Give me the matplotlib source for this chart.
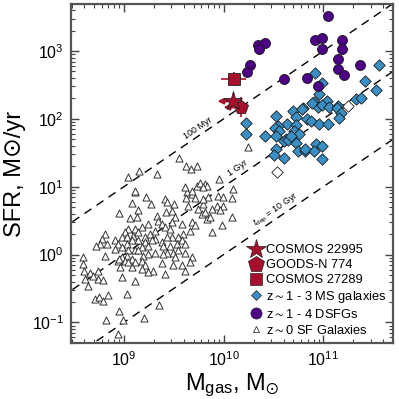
import numpy as np
import matplotlib
matplotlib.use("Agg")
import matplotlib.pyplot as plt
from matplotlib.lines import Line2D
from matplotlib.ticker import LogLocator, FuncFormatter, NullFormatter

plt.rcParams['font.family'] = ['Liberation Sans', 'DejaVu Sans']
plt.rcParams['mathtext.fontset'] = 'custom'
plt.rcParams['mathtext.rm'] = 'Liberation Sans'
plt.rcParams['mathtext.it'] = 'Liberation Sans:italic'
plt.rcParams['mathtext.fallback'] = 'stixsans'

# ---------------- data (log10 values) ----------------
# z~0 SF galaxies
tri_logm = [9.11, 9.22, 9.08, 8.95, 9.14, 9.06, 9.13, 9.41, 9.43, 9.50, 9.63, 9.68, 9.71, 9.64,
            9.62, 9.79, 9.84, 9.74, 9.78, 9.83, 9.86, 9.42, 9.48, 9.51, 9.48, 9.33, 9.34, 9.38,
            9.24, 9.18, 9.11, 9.04, 9.01, 8.98, 8.81, 8.78, 8.76, 8.83, 8.91, 8.94, 9.03, 9.09,
            9.14, 9.21, 9.26, 9.31, 9.41, 9.46, 9.58, 9.68, 9.71, 9.66, 9.59, 9.54, 9.48, 9.43,
            9.38, 9.31, 9.28, 9.21, 9.14, 9.08, 9.03, 8.98, 8.91, 9.04, 9.11, 9.18, 9.24, 9.39,
            9.46, 9.53, 9.58, 9.61, 9.54, 9.49, 9.43, 9.39, 9.31, 9.24, 9.19, 9.14, 9.03, 8.98,
            8.94, 9.01, 9.08, 9.11, 9.18, 9.21, 9.29, 9.18, 9.08, 8.96, 9.38, 9.51, 9.49, 9.58,
            9.61, 9.68, 9.66, 9.61, 8.81, 8.74, 8.98, 9.11, 8.74, 8.79, 9.79, 9.81,
            9.04, 9.15, 9.33, 9.55, 9.62, 9.67, 9.73, 9.11, 9.61, 9.68, 9.73, 9.27, 8.72,
            10.24, 9.76, 9.81, 9.83, 9.79, 9.95, 10.09, 9.94, 9.99, 10.08,
            9.99, 9.93, 9.88, 9.96, 10.08, 9.98, 9.88,
            8.59, 8.59, 8.60, 8.61, 8.64, 8.66, 8.69, 8.71, 8.75, 8.79, 8.84, 9.03, 8.82, 8.95,
            8.99, 9.20, 9.35, 8.94, 9.41, 9.24, 9.04, 8.95]
tri_logsfr = [0.92, 0.85, 0.76, 0.61, 0.65, 0.54, 0.55, 0.82, 0.77, 0.75, 0.92, 0.89, 0.84, 0.72,
              0.84, 0.75, 0.85, 0.67, 0.60, 0.52, 0.55, 0.62, 0.64, 0.55, 0.48, 0.57, 0.50, 0.45,
              0.45, 0.40, 0.38, 0.38, 0.33, 0.26, 0.30, 0.23, 0.16, 0.16, 0.21, 0.16, 0.26, 0.28,
              0.33, 0.26, 0.30, 0.35, 0.40, 0.38, 0.45, 0.48, 0.43, 0.35, 0.30, 0.26, 0.26, 0.26,
              0.18, 0.23, 0.21, 0.18, 0.21, 0.21, 0.16, 0.11, 0.08, 0.06, 0.07, 0.11, 0.13, 0.13,
              0.13, 0.16, 0.21, 0.16, 0.06, 0.03, 0.03, 0.01, 0.03, 0.01, -0.02, 0.06, -0.02, -0.04,
              -0.09, -0.09, -0.06, -0.11, -0.09, -0.16, -0.24, -0.21, -0.19, -0.19, -0.13, -0.04, -0.16, -0.16,
              -0.24, -0.04, -0.11, 0.03, -0.02, -0.24, -0.33, -0.39, -0.36, -0.38, 0.82, 0.62,
              1.15, 1.23, 1.18, 1.42, 1.31, 1.26, 1.31, 0.93, 0.99, 0.94, 1.01, 0.75, 0.12,
              1.59, 1.06, 1.04, 1.01, 0.99, 1.12, 0.96, 0.87, 0.85, 0.84,
              0.72, 0.72, 0.67, 0.65, 0.56, 0.43, 0.33,
              -0.04, -0.14, -0.24, -0.36, -0.46, -0.27, -0.32, -0.65, -0.63, -0.69, -0.60, -0.58, -0.97, -0.83,
              -0.97, -0.93, -0.75, -1.17, -0.28, -0.26, -0.11, -0.06]

# z~1-3 main-sequence galaxies
ms_logm = [11.56, 11.42, 11.53, 10.92, 10.99, 10.96, 10.91, 11.04, 11.33, 11.38, 10.95, 10.99,
           11.06, 11.15, 10.80, 10.70, 10.53, 10.84, 10.88, 10.73, 10.64, 10.55, 10.96, 11.05,
           10.22, 10.52, 10.56, 10.73, 10.71, 10.76, 10.22, 10.42, 10.53, 10.63, 10.61, 10.65,
           10.73, 10.93, 10.53, 10.75, 10.82, 10.91, 10.51, 10.61, 10.99, 11.14, 11.18, 11.16,
           10.79, 10.89, 10.68, 10.99, 10.82]
ms_logsfr = [2.79, 2.56, 2.42, 2.67, 2.53, 2.37, 2.25, 2.27, 2.29, 2.31, 2.18, 2.21,
             2.18, 2.19, 2.16, 2.12, 2.04, 2.00, 1.97, 2.03, 1.93, 1.90, 1.92, 1.92,
             1.94, 1.87, 1.82, 1.91, 1.82, 1.78, 1.77, 1.74, 1.74, 1.71, 1.68, 1.69,
             1.65, 1.63, 1.55, 1.53, 1.53, 1.52, 1.46, 1.43, 1.41, 2.16, 2.09, 2.01,
             2.15, 2.24, 1.75, 1.60, 1.56]
# open diamonds
ms_open_logm = [11.25, 10.54]
ms_open_logsfr = [2.19, 1.21]

# z~1-4 DSFGs
dsfg_logm = [11.05, 10.34, 10.42, 10.35, 10.26, 10.23, 10.61, 10.84, 10.92, 10.99, 10.99,
             11.19, 11.19, 11.15, 11.15, 11.21, 11.37, 10.95]
dsfg_logsfr = [3.51, 3.09, 3.12, 3.03, 2.79, 2.69, 2.59, 2.60, 3.16, 3.19, 3.03,
               3.16, 3.03, 2.88, 2.74, 2.65, 2.79, 2.48]

# individual sources
c22995_logm, c22995_logsfr = 10.09, 2.26      # star (upper limit on Mgas)
g774_logm, g774_logsfr, g774_sfr_err_dex = 10.17, 2.17, 0.15   # pentagon
c27289_logm, c27289_logsfr = 10.10, 2.59      # square
c27289_m_err_dex, c27289_sfr_err_dex = 0.125, 0.10

# depletion time lines (yr)
tdep_years = [1e8, 1e9, 1e10]
tdep_labels = ['100 Myr', '1 Gyr', r'$t_{\rm dep}$ = 10 Gyr']
tdep_label_logm = [9.74, 10.14, 10.53]

red = '#a80f2d'
blue = '#3a8fc4'
purple = '#4c0086'

fig = plt.figure(figsize=(3.99, 3.99), dpi=100)
ax = fig.add_axes([0.178, 0.140, 0.807, 0.850])
ax.set_xscale('log')
ax.set_yscale('log')
xlim = (2.95e8, 5.0e11)
ylim = (0.0495, 4930)
ax.set_xlim(*xlim)
ax.set_ylim(*ylim)

# dashed lines
mm = np.logspace(8, 12.5, 50)
for t, lab, lm in zip(tdep_years, tdep_labels, tdep_label_logm):
    ax.plot(mm, mm / t, ls=(0, (6, 4.5)), color='black', lw=1.0, zorder=1)
    mx = 10 ** lm
    ax.text(mx, mx / t * 10 ** 0.13, lab, rotation=34.2, fontsize=6.5,
            ha='center', va='center', rotation_mode='anchor', zorder=2)

tri_m = 10 ** np.array(tri_logm)
tri_s = 10 ** np.array(tri_logsfr)
ax.scatter(tri_m, tri_s, marker='^', s=26, facecolors='white', edgecolors='#333333',
           linewidths=0.7, zorder=3)

ax.scatter(10 ** np.array(ms_logm), 10 ** np.array(ms_logsfr), marker='D', s=34,
           facecolors=blue, edgecolors='#1a1a1a', linewidths=0.6, zorder=4)
ax.scatter(10 ** np.array(ms_open_logm), 10 ** np.array(ms_open_logsfr), marker='D', s=34,
           facecolors='white', edgecolors='#1a1a1a', linewidths=0.6, zorder=4)
ax.scatter(10 ** np.array(dsfg_logm), 10 ** np.array(dsfg_logsfr), marker='o', s=52,
           facecolors=purple, edgecolors='#1a1a1a', linewidths=0.6, zorder=5)

# COSMOS 27289 square with error bars
m0 = 10 ** c27289_logm
s0 = 10 ** c27289_logsfr
ax.errorbar([m0], [s0],
            xerr=[[m0 - m0 / 10 ** c27289_m_err_dex], [m0 * 10 ** c27289_m_err_dex - m0]],
            yerr=[[s0 - s0 / 10 ** c27289_sfr_err_dex], [s0 * 10 ** c27289_sfr_err_dex - s0]],
            fmt='s', ms=8.5, mfc=red, mec='#222222', mew=0.6, ecolor=red, elinewidth=1.2,
            capsize=0, zorder=6)

# GOODS-N 774 pentagon
m1 = 10 ** g774_logm
s1 = 10 ** g774_logsfr
ax.errorbar([m1], [s1], yerr=[[s1 - s1 / 10 ** g774_sfr_err_dex], [s1 * 10 ** g774_sfr_err_dex - s1]],
            fmt='p', ms=10.5, mfc=red, mec='#222222', mew=0.6, ecolor=red, elinewidth=1.2,
            capsize=0, zorder=6)
ax.annotate('', xy=(m1 / 10 ** 0.2, s1), xytext=(m1, s1),
            arrowprops=dict(arrowstyle='-|>', color=red, lw=1.6, mutation_scale=8), zorder=6)

# COSMOS 22995 star
m2 = 10 ** c22995_logm
s2 = 10 ** c22995_logsfr
ax.annotate('', xy=(m2 / 10 ** 0.18, s2), xytext=(m2, s2),
            arrowprops=dict(arrowstyle='-|>', color=red, lw=1.6, mutation_scale=8), zorder=6)
ax.plot([m2], [s2], marker='*', ms=14, mfc=red, mec='#222222', mew=0.6, ls='none', zorder=7)

# ticks
ax.xaxis.set_major_locator(LogLocator(base=10, numticks=10))
ax.yaxis.set_major_locator(LogLocator(base=10, numticks=10))
ax.xaxis.set_minor_locator(LogLocator(base=10, subs=np.arange(2, 10), numticks=20))
ax.yaxis.set_minor_locator(LogLocator(base=10, subs=np.arange(2, 10), numticks=20))
fmt = FuncFormatter(lambda v, p: r'$\mathregular{10^{%d}}$' % int(round(np.log10(v))))
ax.xaxis.set_major_formatter(fmt)
ax.yaxis.set_major_formatter(fmt)
ax.xaxis.set_minor_formatter(NullFormatter())
ax.yaxis.set_minor_formatter(NullFormatter())
ax.tick_params(which='both', direction='in', top=True, right=True, colors='#444444',
               labelcolor='black', labelsize=11.5)
ax.tick_params(which='major', length=6, width=1.0, pad=5)
ax.tick_params(which='minor', length=3, width=0.8)
for sp in ax.spines.values():
    sp.set_color('#555555')
    sp.set_linewidth(1.6)

ax.set_ylabel('SFR, M\u2299/yr', fontsize=17, labelpad=4)
ax.set_xlabel(r'M$_{\mathrm{gas}}$, M$_{\odot}$', fontsize=17, labelpad=2)

handles = [
    Line2D([], [], marker='*', ls='none', ms=15, mfc=red, mec='#222222', mew=0.5),
    Line2D([], [], marker='p', ls='none', ms=12, mfc=red, mec='#222222', mew=0.5),
    Line2D([], [], marker='s', ls='none', ms=9, mfc=red, mec='#222222', mew=0.5),
    Line2D([], [], marker='D', ls='none', ms=5.5, mfc=blue, mec='#222222', mew=0.5),
    Line2D([], [], marker='o', ls='none', ms=8, mfc=purple, mec='#222222', mew=0.5),
    Line2D([], [], marker='^', ls='none', ms=5, mfc='white', mec='#333333', mew=0.6),
]
labels = ['COSMOS 22995', 'GOODS-N 774', 'COSMOS 27289', r'z$\sim$1 - 3 MS galaxies',
          r'z$\sim$1 - 4 DSFGs', r'z$\sim$0 SF Galaxies']
ax.legend(handles, labels, loc='lower right', frameon=False, fontsize=9.3,
          handlelength=1.0, handletextpad=0.3, labelspacing=0.22, borderaxespad=0.2,
          borderpad=0.3)

fig.savefig('out.png', dpi=100)
